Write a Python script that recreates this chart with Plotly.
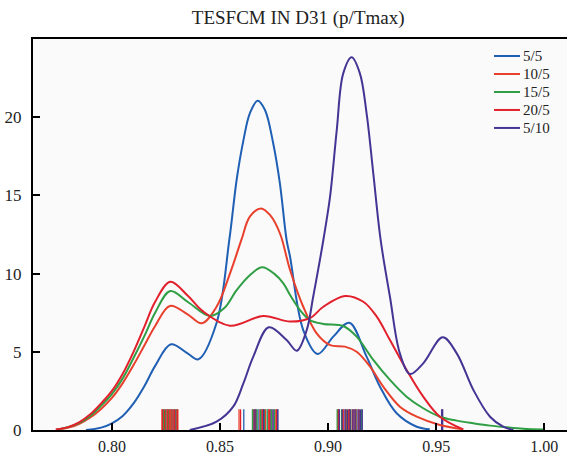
import plotly.graph_objects as go

# ---- data ----
series_names = ["5/5", "10/5", "15/5", "20/5", "5/10"]

x_55 = [0.788, 0.795, 0.800, 0.805, 0.810, 0.815, 0.820, 0.8273, 0.835, 0.840, 0.8484, 0.8543,
        0.8577, 0.8608, 0.8638, 0.8674, 0.8708, 0.8746, 0.8777, 0.8808, 0.8824, 0.8885, 0.8952,
        0.9024, 0.9098, 0.9178, 0.924, 0.9317, 0.941, 0.947]
y_55 = [0.0, 0.15, 0.43, 0.9, 1.7, 2.8, 4.1, 5.48, 4.9, 4.52, 6.84, 12.15,
        16.0, 18.5, 20.25, 21.05, 20.46, 18.33, 15.77, 12.15, 11.08, 6.39, 4.86,
        5.97, 6.86, 4.69, 2.77, 1.07, 0.21, 0.04]

x_105 = [0.7744, 0.780, 0.785, 0.790, 0.795, 0.800, 0.805, 0.810, 0.815, 0.820, 0.8268, 0.835,
         0.8415, 0.8484, 0.8546, 0.8600, 0.8638, 0.869, 0.8731, 0.8777, 0.8824, 0.8885, 0.8947,
         0.9009, 0.9078, 0.9132, 0.9194, 0.9255, 0.9332, 0.941, 0.9517, 0.9625]
y_105 = [0.02, 0.15, 0.4, 0.8, 1.35, 2.05, 3.0, 4.15, 5.4, 6.65, 7.93, 7.4,
         6.82, 7.88, 10.0, 12.2, 13.64, 14.17, 13.75, 12.58, 10.23, 7.88, 6.18,
         5.43, 5.33, 5.0, 4.05, 2.77, 1.49, 0.85, 0.32, 0.04]

x_155 = [0.7744, 0.780, 0.785, 0.790, 0.795, 0.800, 0.805, 0.810, 0.815, 0.820, 0.827, 0.835,
         0.8453, 0.852, 0.8577, 0.8638, 0.8695, 0.875, 0.8793, 0.8824, 0.887, 0.8916, 0.8978,
         0.907, 0.9132, 0.9209, 0.9286, 0.9363, 0.944, 0.9517, 0.9595, 0.9672, 0.9749, 0.9826,
         0.9903, 0.9996]
y_155 = [0.03, 0.2, 0.45, 0.9, 1.55, 2.3, 3.3, 4.6, 6.0, 7.5, 8.89, 8.2,
         7.29, 7.8, 8.95, 9.9, 10.4, 10.0, 9.38, 8.63, 7.67, 7.03, 6.78,
         6.65, 5.97, 4.48, 3.2, 2.13, 1.39, 0.85, 0.6, 0.43, 0.28, 0.17,
         0.08, 0.03]

x_205 = [0.774, 0.780, 0.785, 0.790, 0.795, 0.800, 0.805, 0.810, 0.815, 0.820, 0.827, 0.835,
         0.842, 0.8546, 0.870, 0.8824, 0.8916, 0.8978, 0.9078, 0.9163, 0.9225, 0.9286, 0.9363,
         0.944, 0.9517, 0.9625]
y_205 = [0.03, 0.2, 0.5, 1.0, 1.7, 2.5, 3.6, 5.0, 6.6, 8.2, 9.48, 8.6,
         7.6, 6.67, 7.29, 6.93, 7.16, 7.88, 8.57, 8.2, 7.25, 5.75, 3.84,
         2.13, 0.85, 0.04]

x_510 = [0.836, 0.8484, 0.8561, 0.8608, 0.8654, 0.8726, 0.8808, 0.8855, 0.8901, 0.8931, 0.8962,
         0.8978, 0.9009, 0.904, 0.907, 0.9109, 0.9147, 0.9178, 0.9209, 0.9243, 0.9286, 0.9332,
         0.9379, 0.944, 0.953, 0.9595, 0.9672, 0.9749, 0.981, 0.9857]
y_510 = [0.0, 0.53, 1.49, 2.98, 4.69, 6.57, 5.75, 5.07, 6.39, 8.52, 10.87,
         12.15, 14.92, 19.18, 22.8, 23.83, 22.8, 20.25, 16.41, 12.15, 8.52, 4.9,
         3.58, 4.26, 5.93, 4.9, 2.56, 0.85, 0.21, 0.0]

rug_55 = [0.8235, 0.8248, 0.826, 0.8272, 0.8285, 0.8295, 0.861, 0.8655, 0.8668, 0.868, 0.869,
          0.87, 0.871, 0.8722, 0.8735, 0.875, 0.8765, 0.905, 0.908, 0.91, 0.912, 0.9145]
rug_105 = [0.8232, 0.8245, 0.8258, 0.827, 0.8283, 0.8298, 0.8305, 0.8588, 0.8652, 0.8665, 0.8685,
           0.8698, 0.871, 0.8725, 0.874, 0.8758, 0.9045, 0.907, 0.9095, 0.912]
rug_155 = [0.8238, 0.825, 0.8262, 0.8277, 0.829, 0.8302, 0.865, 0.8672, 0.8688, 0.8705, 0.8718,
           0.8738, 0.8752, 0.9042, 0.9062, 0.9085, 0.9105, 0.913, 0.9155]
rug_205 = [0.8233, 0.8243, 0.8255, 0.8265, 0.8278, 0.829, 0.8303, 0.8595, 0.866, 0.8695, 0.873,
           0.8762, 0.9048, 0.9068, 0.9082, 0.9098, 0.9112, 0.9128, 0.9142]
rug_510 = [0.8662, 0.8702, 0.8745, 0.8768, 0.9052, 0.9065, 0.9078, 0.909, 0.9102, 0.9115, 0.9125,
           0.9138, 0.915, 0.9158, 0.9525, 0.9528, 0.953]

x_ticks = [0.80, 0.85, 0.90, 0.95, 1.00]
y_ticks = [0, 5, 10, 15, 20]
rug_height = 1.32

colors = ["#1f5fb4", "#e8402c", "#2f9e44", "#e2202c", "#463494"]
curves = [(x_55, y_55, rug_55), (x_105, y_105, rug_105), (x_155, y_155, rug_155),
          (x_205, y_205, rug_205), (x_510, y_510, rug_510)]

FONT = "Liberation Serif"
TXT = "#222222"
fig = go.Figure()

# rugs
for (xs, ys, rug), c in zip(curves, colors):
    rx, ry = [], []
    for v in rug:
        rx += [v, v, None]
        ry += [0, rug_height, None]
    fig.add_trace(go.Scatter(x=rx, y=ry, mode="lines", line=dict(color=c, width=1.3),
                             showlegend=False, hoverinfo="skip"))

# density curves
for (xs, ys, rug), c, name in zip(curves, colors, series_names):
    fig.add_trace(go.Scatter(x=xs, y=ys, mode="lines", name=name, showlegend=False,
                             line=dict(color=c, width=2, shape="spline", smoothing=1.0)))

# compact legend (swatch + label), matching the reference's tight spacing
shapes, annots = [], []
leg_top, leg_step = 0.9565, 0.046
for i, (name, c) in enumerate(zip(series_names, colors)):
    yy = leg_top - i * leg_step
    shapes.append(dict(type="line", xref="paper", yref="paper", x0=0.8633, x1=0.912,
                       y0=yy, y1=yy, line=dict(color=c, width=2)))
    annots.append(dict(xref="paper", yref="paper", x=0.9165, y=yy, xanchor="left",
                       yanchor="middle", text=name, showarrow=False,
                       borderpad=0, font=dict(family=FONT, size=15, color=TXT)))

fig.update_layout(
    width=568, height=456,
    margin=dict(l=33, r=1, t=39, b=26, autoexpand=False),
    paper_bgcolor="white", plot_bgcolor="#fafafa",
    font=dict(family=FONT, color=TXT, size=17),
    title=dict(text="TESFCM IN D31 (p/Tmax)", x=0.525, xanchor="center", y=0.963, yanchor="middle",
               font=dict(family=FONT, size=19, color=TXT)),
    showlegend=False,
    shapes=shapes, annotations=annots,
)
fig.update_xaxes(range=[0.7635, 1.0105], tickvals=x_ticks, ticktext=[f"{v:.2f}" for v in x_ticks],
                 showgrid=False, zeroline=False, showline=True, linecolor="black", linewidth=2,
                 mirror=True, ticks="inside", ticklen=7, tickwidth=2, tickcolor="black",
                 ticklabelstandoff=1, automargin=False,
                 tickfont=dict(family=FONT, size=16, color=TXT))
fig.update_yaxes(range=[0, 25], tickvals=y_ticks, showgrid=False, zeroline=False, showline=True,
                 linecolor="black", linewidth=2, ticks="inside", ticklen=7, tickwidth=2,
                 tickcolor="black", ticklabelstandoff=6, automargin=False,
                 tickfont=dict(family=FONT, size=17, color=TXT))

fig.write_html("out.html", config={"displayModeBar": False},
               post_script="document.body.style.margin='0px';")
